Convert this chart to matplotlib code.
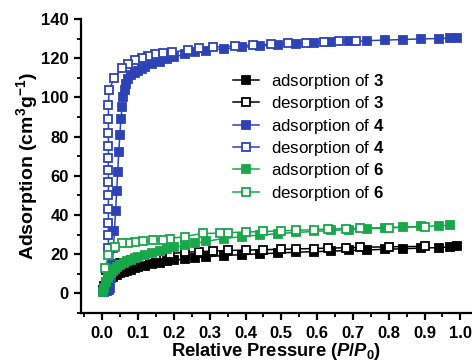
import matplotlib
matplotlib.use("Agg")
import matplotlib.pyplot as plt
from matplotlib.ticker import MultipleLocator

plt.rcParams['font.family'] = ['Liberation Sans', 'DejaVu Sans']
plt.rcParams['mathtext.fontset'] = 'custom'
plt.rcParams['mathtext.rm'] = 'Liberation Sans:bold'
plt.rcParams['mathtext.bf'] = 'Liberation Sans:bold'
plt.rcParams['mathtext.it'] = 'Liberation Sans:bold:italic'

# ---- data ----
ads3_p = [0.002, 0.005, 0.01, 0.015, 0.02, 0.03, 0.04, 0.05, 0.06, 0.07, 0.08, 0.09, 0.1, 0.12, 0.14, 0.16,
          0.18, 0.2, 0.23, 0.26, 0.29, 0.34, 0.39, 0.44, 0.49, 0.54, 0.59, 0.64, 0.69, 0.74, 0.79, 0.84,
          0.89, 0.94, 0.97, 0.99]
ads3_v = [2, 4, 5.5, 6.5, 7.5, 8.5, 9.5, 10.3, 11, 11.6, 12.2, 12.8, 13.3, 14.2, 15, 15.7,
          16.3, 16.9, 17.6, 18.2, 18.7, 19.3, 19.8, 20.2, 20.6, 21, 21.3, 21.6, 21.9, 22.2, 22.5, 22.8,
          23.1, 23.4, 23.7, 24]
des3_p = [0.9, 0.8, 0.72, 0.68, 0.63, 0.59, 0.54, 0.5, 0.45, 0.4, 0.35, 0.31, 0.27, 0.23, 0.19, 0.15,
          0.11, 0.08, 0.05, 0.03, 0.01]
des3_v = [24, 23.8, 23.5, 23.3, 23.1, 22.9, 22.7, 22.5, 22.3, 22.1, 21.9, 21.6, 21.3, 21, 20.3, 19.5,
          18.3, 17, 15.5, 14, 12]

ads4_p = [0.005, 0.012, 0.018, 0.022, 0.025, 0.028, 0.031, 0.034, 0.037, 0.04, 0.043, 0.046, 0.049, 0.052,
          0.055, 0.058, 0.062, 0.067, 0.073, 0.08, 0.09, 0.1, 0.11, 0.12, 0.14, 0.16, 0.18, 0.2, 0.23,
          0.26, 0.29, 0.34, 0.39, 0.44, 0.49, 0.54, 0.59, 0.64, 0.69, 0.74, 0.79, 0.84, 0.89, 0.94, 0.97, 0.99]
ads4_v = [0.5, 1, 2, 3, 8, 15, 23, 32, 42, 52, 62, 72, 81, 89,
          95, 100, 104, 107, 109.5, 111.5, 112.5, 113.5, 114.5, 115.5, 116.8, 118.2, 119.5, 120.5, 122,
          123, 123.8, 124.8, 125.5, 126.2, 126.8, 127.3, 127.7, 128.1, 128.5, 128.9, 129.2, 129.5, 129.8, 130, 130.2, 130.3]
des4_p = [0.71, 0.66, 0.62, 0.57, 0.52, 0.47, 0.42, 0.37, 0.31, 0.27, 0.24, 0.196, 0.17, 0.148, 0.128,
          0.112, 0.092, 0.073, 0.056, 0.034, 0.019, 0.017, 0.017, 0.017, 0.017, 0.017, 0.017, 0.017, 0.017,
          0.017, 0.017, 0.017, 0.017]
des4_v = [128.8, 128.5, 128.2, 127.9, 127.5, 127.1, 126.7, 126.2, 125.6, 125, 124.3, 123, 122.5, 122, 121,
          120, 119, 117, 115, 110, 104, 96, 89, 82, 75, 69, 63, 57, 50, 43, 36, 30, 23]

ads6_p = [0.002, 0.005, 0.01, 0.015, 0.02, 0.025, 0.03, 0.035, 0.04, 0.05, 0.06, 0.07, 0.08, 0.09, 0.1,
          0.12, 0.14, 0.16, 0.18, 0.2, 0.23, 0.26, 0.29, 0.34, 0.39, 0.44, 0.49, 0.54, 0.59, 0.64, 0.69,
          0.74, 0.79, 0.84, 0.89, 0.94, 0.97]
ads6_v = [0.5, 3, 6, 8, 9.5, 10.5, 11.5, 12.5, 13.3, 14.5, 15.5, 16.4, 17.2, 18, 18.7,
          19.8, 20.8, 21.8, 22.7, 23.5, 24.5, 25.6, 26.6, 28, 29, 29.8, 30.5, 31.1, 31.6, 32.1, 32.6,
          33, 33.4, 33.8, 34.2, 34.5, 34.8]
des6_p = [0.9, 0.8, 0.72, 0.68, 0.63, 0.59, 0.54, 0.5, 0.45, 0.4, 0.35, 0.33, 0.28, 0.23, 0.19, 0.17,
          0.142, 0.115, 0.092, 0.073, 0.056, 0.036, 0.017, 0.008]
des6_v = [34, 33.6, 33.3, 33.1, 32.8, 32.5, 32.2, 31.9, 31.6, 31.3, 31, 30.7, 30.6, 29, 28, 27.5,
          27, 26.6, 26, 25.7, 25.5, 23.5, 19.4, 13]

series = [
    (ads3_p, ads3_v, 'black', True, 'adsorption of $\\mathbf{3}$'),
    (des3_p, des3_v, 'black', False, 'desorption of $\\mathbf{3}$'),
    (ads4_p, ads4_v, '#2D42B5', True, 'adsorption of $\\mathbf{4}$'),
    (des4_p, des4_v, '#2D42B5', False, 'desorption of $\\mathbf{4}$'),
    (ads6_p, ads6_v, '#17A84B', True, 'adsorption of $\\mathbf{6}$'),
    (des6_p, des6_v, '#17A84B', False, 'desorption of $\\mathbf{6}$'),
]

fig = plt.figure(figsize=(4.72, 3.64), dpi=100)
ax = fig.add_axes([0.172, 0.140, 0.826, 0.808])

for p, v, c, filled, lab in series:
    ax.plot(p, v, color=c, lw=1.1, marker='s', ms=6.3, mew=1.3,
            mfc=c if filled else 'white', mec=c, label=lab)

ax.set_xlim(-0.059, 1.03)
ax.set_ylim(-10, 140)
ax.xaxis.set_major_locator(MultipleLocator(0.1))
ax.xaxis.set_minor_locator(MultipleLocator(0.05))
ax.yaxis.set_major_locator(MultipleLocator(20))
ax.yaxis.set_minor_locator(MultipleLocator(10))
ax.set_xticks([i / 10 for i in range(11)])
ax.set_xticklabels([f'{i/10:.1f}' for i in range(11)])
ax.set_yticks(range(0, 141, 20))

for s in ['top', 'right']:
    ax.spines[s].set_visible(False)
for s in ['left', 'bottom']:
    ax.spines[s].set_linewidth(1.6)

ax.tick_params(which='major', direction='out', length=5, width=1.6, labelsize=12, pad=4)
ax.tick_params(which='minor', direction='out', length=3, width=1.3)
for lbl in ax.get_xticklabels() + ax.get_yticklabels():
    lbl.set_fontweight('bold')

ax.set_xlabel('Relative Pressure ($P$/$P_0$)', fontsize=13.2, fontweight='bold', labelpad=0)
ax.set_ylabel('Adsorption (cm$^{3}$g$^{-1}$)', fontsize=14, fontweight='bold', labelpad=1)

leg = ax.legend(loc='upper left', bbox_to_anchor=(0.39, 0.82), frameon=False, fontsize=12.2,
                handlelength=1.55, handletextpad=0.7, labelspacing=0.2, borderpad=0, borderaxespad=0)

fig.savefig('out.png', dpi=100)
